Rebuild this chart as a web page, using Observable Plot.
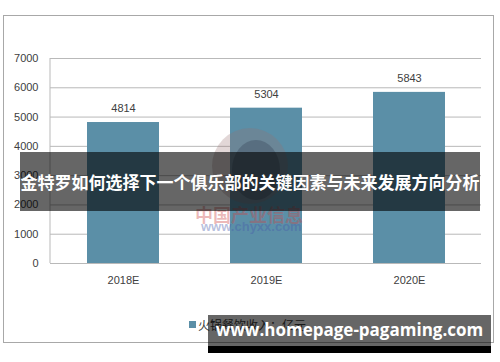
<!DOCTYPE html>
<html>
<head>
<meta charset="utf-8">
<script src="https://cdn.jsdelivr.net/npm/d3@7"></script>
<script src="https://cdn.jsdelivr.net/npm/@observablehq/plot@0.6"></script>
<style>
  html, body { margin: 0; padding: 0; background: #fff; }
  #wrap { position: relative; width: 500px; height: 362px; overflow: hidden; font-family: "Liberation Sans", "DejaVu Sans", sans-serif; }
  #frame { position: absolute; left: 3px; top: 15px; width: 491px; height: 328px; border: 1px solid #a8a8a8; box-sizing: border-box; }
  #chart { position: absolute; left: 0; top: 0; }
  .abs { position: absolute; }
  #legend { left: 189px; top: 316px; font-size: 12px; color: #404040; font-family: "Noto Sans CJK SC", sans-serif; display: flex; align-items: center; white-space: nowrap; }
  #legend .sw { width: 7px; height: 7px; background: #5b8fa7; margin-right: 2px; }
  #wm1 { left: 195px; top: 201px; font-size: 18px; font-weight: bold; color: rgba(205,70,70,0.38); font-family: "Noto Sans CJK SC", sans-serif; white-space: nowrap; }
  #wm2 { left: 201px; top: 219px; font-size: 13px; font-weight: bold; color: rgba(70,90,170,0.4); font-family: "Liberation Sans", sans-serif; white-space: nowrap; }
  #logo { left: 212px; top: 128px; width: 76px; height: 76px; border-radius: 50%; background: rgba(150,110,110,0.28); }
  #logo2 { left: 232px; top: 140px; width: 48px; height: 60px; border-radius: 50%; background: rgba(30,40,60,0.25); }
  #banner { left: 20px; top: 152px; width: 460px; height: 59px; background: rgba(0,0,0,0.6); }
  #bannert { left: 20px; top: 152px; width: 460px; height: 59px; line-height: 59px; text-align: center; color: #fff; font-weight: bold; font-size: 17px; font-family: "Noto Sans CJK SC", sans-serif; white-space: nowrap; }
  #site { left: 208px; top: 315px; width: 283px; height: 31px; background: rgba(0,0,0,0.6); }
  #siteb { left: 208px; top: 346px; width: 283px; height: 7px; background: #000; }
  #sitet { left: 208px; top: 318px; width: 283px; text-align: center; color: #fff; font-weight: bold; font-size: 17px; font-family: "Open Sans", sans-serif; white-space: nowrap; }
</style>
</head>
<body>
<div id="wrap">
  <div id="frame"></div>
  <div id="chart"></div>
  <div id="legend" class="abs"><span class="sw"></span><span id="legtext"></span></div>
  <div id="logo" class="abs"></div>
  <div id="logo2" class="abs"></div>
  <div id="wm1" class="abs">中国产业信息</div>
  <div id="wm2" class="abs">www.chyxx.com</div>
  <div id="banner" class="abs"></div>
  <div id="bannert" class="abs"></div>
  <div id="site" class="abs"></div>
  <div id="siteb" class="abs"></div>
  <div id="sitet" class="abs"></div>
</div>
<script>
const categories = ["2018E", "2019E", "2020E"];
const values = [4814, 5304, 5843];
const yTicks = [0, 1000, 2000, 3000, 4000, 5000, 6000, 7000];
const seriesName = "火锅餐饮收入：亿元";
const bannerText = "金特罗如何选择下一个俱乐部的关键因素与未来发展方向分析";
const siteText = "www.homepage-pagaming.com";

const data = categories.map((c, i) => ({category: c, value: values[i]}));

const chart = Plot.plot({
  width: 500,
  height: 362,
  marginLeft: 50,
  marginRight: 19,
  marginTop: 58,
  marginBottom: 99,
  style: {background: "transparent", fontFamily: "Liberation Sans, DejaVu Sans, sans-serif", fontSize: "11px", color: "#404040"},
  x: {domain: categories, paddingInner: 0.5, paddingOuter: 0.25, label: null, tickSize: 0, tickPadding: 13},
  y: {domain: [0, 7000], ticks: yTicks, label: null, tickSize: 0, tickPadding: 12, tickFormat: d => String(d)},
  marks: [
    Plot.gridY(yTicks, {stroke: "#b9b9b9", strokeOpacity: 1, strokeWidth: 1}),
    Plot.barY(data, {x: "category", y: "value", fill: "#5b8fa7"}),
    Plot.text(data, {x: "category", y: "value", text: d => String(d.value), dy: -14, fill: "#404040", fontSize: 11}),
    Plot.axisY({ticks: yTicks, tickSize: 0, tickPadding: 12, tickFormat: d => String(d), fill: "#404040", fontSize: 11}),
    Plot.axisX({tickSize: 0, tickPadding: 13, fill: "#404040", fontSize: 11})
  ]
});
document.getElementById("chart").appendChild(chart);

// y-axis vertical line, positioned through the library's y scale
const svg = d3.select(chart);
const ys = chart.scale("y");
svg.append("line")
  .attr("x1", 50).attr("x2", 50)
  .attr("y1", ys.apply(7000)).attr("y2", ys.apply(0))
  .attr("stroke", "#b9b9b9");

document.getElementById("legtext").textContent = seriesName;
document.getElementById("bannert").textContent = bannerText;
document.getElementById("sitet").textContent = siteText;
</script>
</body>
</html>
